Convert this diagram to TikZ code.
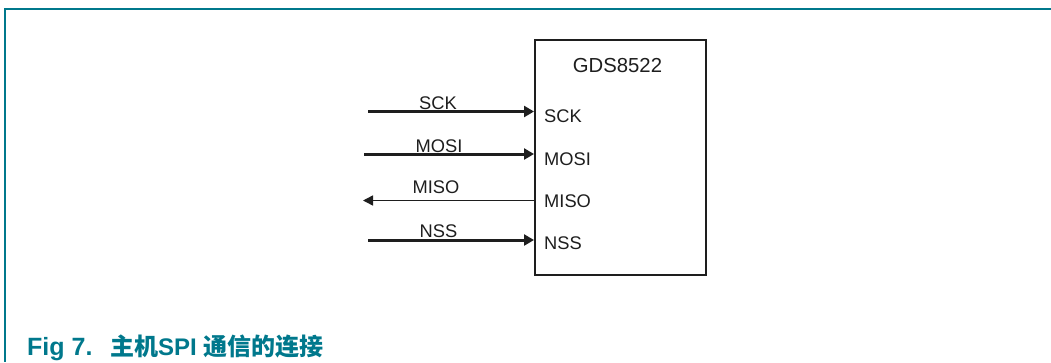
\documentclass[tikz,border=0pt]{standalone}
\usepackage{fontspec}
\setmainfont{Liberation Sans}
\newfontfamily\cjk{Noto Sans CJK SC}
\usetikzlibrary{arrows.meta,positioning}
\definecolor{figteal}{RGB}{0,120,140}
\definecolor{inkgrey}{RGB}{30,30,30}

\begin{document}
\begin{tikzpicture}[x=1pt,y=-1pt,
    pin/.style={anchor=base west, inner sep=0pt, text=inkgrey, font=\fontsize{18.3}{18}\selectfont},
    sig/.style={anchor=base, inner sep=0pt, text=inkgrey, font=\fontsize{18.3}{18}\selectfont},
    inwire/.style={line width=3pt, inkgrey, -{Triangle[length=10pt,width=11pt]}},
    outwire/.style={line width=1.5pt, inkgrey, -{Triangle[length=10pt,width=10pt]}}]
    \useasboundingbox (0,0) rectangle (1051,362);
    % frame
    \draw[figteal, line width=2pt] (4,8.5) -- (1051,8.5);
    \draw[figteal, line width=2pt] (5,8) -- (5,362);
    % chip
    \node (chip) [draw=inkgrey, line width=2pt, minimum width=171pt, minimum height=235pt,
      inner sep=0pt] at (620.5,157.5) {};
    \node (name) [anchor=base, inner sep=0pt, text=inkgrey, font=\fontsize{20.3}{20}\selectfont]
      at (617.5,72) {GDS8522};
    % pins inside
    \node (pSCK)  [pin] at (544,122) {SCK};
    \node (pMOSI) [pin] at (544,165) {MOSI};
    \node (pMISO) [pin] at (544,207) {MISO};
    \node (pNSS)  [pin] at (544,249) {NSS};
    % wire ends
    \coordinate (eSCK)  at (368,111.5);
    \coordinate (eMOSI) at (364,154);
    \coordinate (eMISO) at (363,200.5);
    \coordinate (eNSS)  at (368,240);
    \draw[inwire]  (eSCK)  -- (eSCK -| chip.west);
    \draw[inwire]  (eMOSI) -- (eMOSI -| chip.west);
    \draw[outwire] (eMISO -| chip.west) -- (eMISO);
    \draw[inwire]  (eNSS)  -- (eNSS -| chip.west);
    % signal labels
    \node (lSCK)  [sig] at (438,109) {SCK};
    \node (lMOSI) [sig] at (439,152) {MOSI};
    \node (lMISO) [sig] at (436,193) {MISO};
    \node (lNSS)  [sig] at (438.5,237) {NSS};
    % caption
    \node (fig) [anchor=base west, inner sep=0pt, text=figteal,
      font=\bfseries\fontsize{25}{25}\selectfont] at (27,355) {Fig 7.};
    \node (title) [anchor=base west, inner sep=0pt, text=figteal,
      font=\bfseries\fontsize{24}{24}\selectfont] at (110,355)
      {{\cjk 主机}SPI {\cjk 通信的连接}};
\end{tikzpicture}
\end{document}
